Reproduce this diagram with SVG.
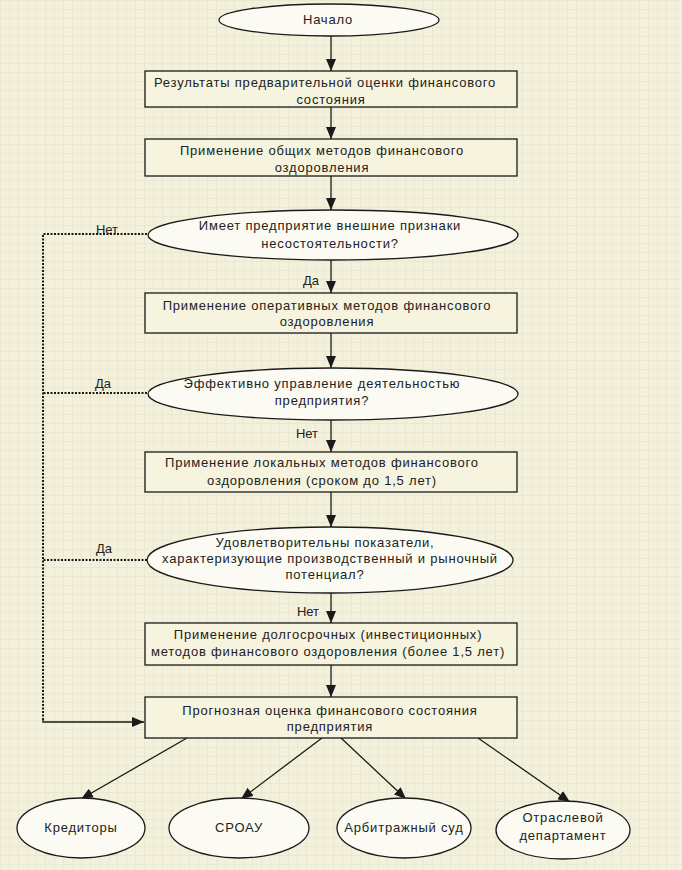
<svg xmlns="http://www.w3.org/2000/svg" width="682" height="870" viewBox="0 0 682 870">
<style>
.box{fill:#f6f3df;stroke:#1a1a1a;stroke-width:1.3}
.ell{fill:#fbfbf4;stroke:#1a1a1a;stroke-width:1.3}
.t{font-family:"Liberation Sans",Arial,sans-serif;font-size:13px;fill:#222;text-anchor:middle;letter-spacing:0.8px}
.lb{font-family:"Liberation Sans",Arial,sans-serif;font-size:13px;fill:#222;text-anchor:middle}
.ln{stroke:#1a1a1a;stroke-width:1.3;fill:none}
.dot{stroke:#1a1a1a;stroke-width:2;fill:none;stroke-dasharray:2 1.5}
</style>
<defs>
<pattern id="grid" width="9" height="9" patternUnits="userSpaceOnUse">
<rect width="9" height="9" fill="#f3f1dc"/>
<path d="M0 0.5H9M0.5 0V9" stroke="#ebe8d1" stroke-width="1"/>
</pattern>
<marker id="ah2" viewBox="0 0 12 10" refX="12" refY="5" markerWidth="12" markerHeight="10" markerUnits="userSpaceOnUse" orient="auto">
<path d="M0 0L12 5L0 10z" fill="#1a1a1a"/>
</marker>
</defs>
<rect width="682" height="870" fill="url(#grid)"/>

<g id="connectors">
<line class="ln" x1="331" y1="36" x2="331" y2="71" marker-end="url(#ah2)"/>
<line class="ln" x1="331" y1="107" x2="331" y2="139" marker-end="url(#ah2)"/>
<line class="ln" x1="331" y1="176" x2="331" y2="210" marker-end="url(#ah2)"/>
<line class="ln" x1="331" y1="260" x2="331" y2="293" marker-end="url(#ah2)"/>
<line class="ln" x1="331" y1="333" x2="331" y2="368" marker-end="url(#ah2)"/>
<line class="ln" x1="331" y1="420" x2="331" y2="452" marker-end="url(#ah2)"/>
<line class="ln" x1="331" y1="492" x2="331" y2="527" marker-end="url(#ah2)"/>
<line class="ln" x1="331" y1="593" x2="331" y2="623" marker-end="url(#ah2)"/>
<line class="ln" x1="331" y1="665" x2="331" y2="697" marker-end="url(#ah2)"/>
<path class="dot" d="M147 234H43V720"/>
<path class="dot" d="M147 393H43"/>
<path class="dot" d="M147 560H43"/>
<path class="ln" d="M43 720V722H144" marker-end="url(#ah2)"/>
<line class="ln" x1="187" y1="738" x2="81" y2="799" marker-end="url(#ah2)"/>
<line class="ln" x1="322" y1="738" x2="241" y2="799" marker-end="url(#ah2)"/>
<line class="ln" x1="341" y1="738" x2="406" y2="799" marker-end="url(#ah2)"/>
<line class="ln" x1="478" y1="738" x2="570" y2="802" marker-end="url(#ah2)"/>
<text class="lb" x="107" y="234">Нет</text>
<text class="lb" x="311" y="285">Да</text>
<text class="lb" x="103" y="388">Да</text>
<text class="lb" x="307" y="438">Нет</text>
<text class="lb" x="104" y="553">Да</text>
<text class="lb" x="308" y="616">Нет</text>
</g>

<g id="start">
<ellipse class="ell" cx="329" cy="20" rx="110" ry="16"/>
<text class="t" x="328" y="24">Начало</text>
</g>
<g id="box1">
<rect class="box" x="145" y="71" width="372" height="36"/>
<text class="t" x="325" y="87">Результаты предварительной оценки финансового</text>
<text class="t" x="331" y="104">состояния</text>
</g>
<g id="box2">
<rect class="box" x="145" y="139" width="372" height="37"/>
<text class="t" x="322" y="155">Применение общих методов финансового</text>
<text class="t" x="322" y="172">оздоровления</text>
</g>
<g id="dec1">
<ellipse class="ell" cx="333" cy="235" rx="185" ry="25"/>
<text class="t" x="330" y="230">Имеет предприятие внешние признаки</text>
<text class="t" x="330" y="248">несостоятельности?</text>
</g>
<g id="box3">
<rect class="box" x="145" y="293" width="372" height="40"/>
<text class="t" x="327" y="310">Применение оперативных методов финансового</text>
<text class="t" x="327" y="326">оздоровления</text>
</g>
<g id="dec2">
<ellipse class="ell" cx="333" cy="394" rx="185" ry="26"/>
<text class="t" x="322" y="388">Эффективно управление деятельностью</text>
<text class="t" x="322" y="405">предприятия?</text>
</g>
<g id="box4">
<rect class="box" x="145" y="452" width="372" height="40"/>
<text class="t" x="322" y="467">Применение локальных методов финансового</text>
<text class="t" x="322" y="485">оздоровления (сроком до 1,5 лет)</text>
</g>
<g id="dec3">
<ellipse class="ell" cx="330" cy="560" rx="183" ry="33"/>
<text class="t" x="325" y="547">Удовлетворительны показатели,</text>
<text class="t" x="330" y="563">характеризующие производственный и рыночный</text>
<text class="t" x="325" y="579">потенциал?</text>
</g>
<g id="box5">
<rect class="box" x="145" y="623" width="372" height="42"/>
<text class="t" x="328" y="639">Применение  долгосрочных (инвестиционных)</text>
<text class="t" x="328" y="656">методов финансового оздоровления (более 1,5 лет)</text>
</g>
<g id="box6">
<rect class="box" x="145" y="697" width="372" height="41"/>
<text class="t" x="330" y="715">Прогнозная оценка финансового состояния</text>
<text class="t" x="330" y="731">предприятия</text>
</g>
<g id="creditors">
<ellipse class="ell" cx="81" cy="828" rx="64" ry="30"/>
<text class="t" x="81" y="832">Кредиторы</text>
</g>
<g id="sroau">
<ellipse class="ell" cx="239" cy="828" rx="70" ry="30"/>
<text class="t" x="239" y="832">СРОАУ</text>
</g>
<g id="court">
<ellipse class="ell" cx="404" cy="828" rx="67" ry="30"/>
<text class="t" x="404" y="832">Арбитражный суд</text>
</g>
<g id="dept">
<ellipse class="ell" cx="563" cy="830" rx="67" ry="29"/>
<text class="t" x="563" y="822">Отраслевой</text>
<text class="t" x="563" y="840">департамент</text>
</g>
</svg>
